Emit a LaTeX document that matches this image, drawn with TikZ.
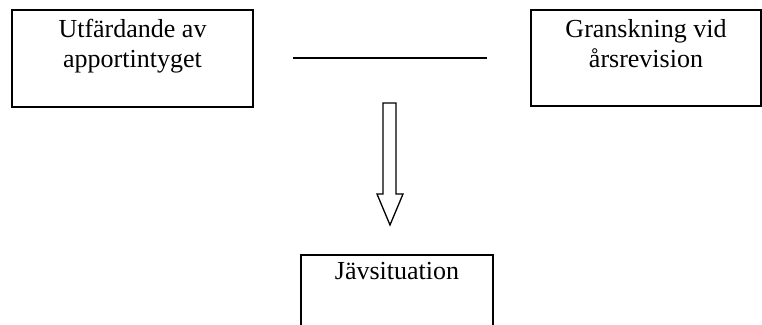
\documentclass[tikz,border=0pt]{standalone}
\usepackage{fontspec}
\setmainfont{Liberation Serif}
\begin{document}
\begin{tikzpicture}[x=1pt,y=1pt,
  box/.style={draw=black, line width=2pt, rectangle, inner sep=0pt},
  lbl/.style={anchor=north, inner sep=0pt, align=center, font=\fontsize{26}{30}\selectfont},
  arr/.style={draw=black, line width=1.3pt, fill=white}]
\useasboundingbox (0,0) rectangle (762,324);
\node[box, minimum width=241pt, minimum height=97pt] (L) at (132.5,265.5) {};
\node[box, minimum width=230pt, minimum height=96pt] (R) at (646,266) {};
\node[box, minimum width=192pt, minimum height=85pt] (B) at (397,26.5) {};
\node[lbl] (Lt) at ([yshift=-10pt]L.north) {Utfärdande av\\apportintyget};
\node[lbl] (Rt) at ([yshift=-10pt]R.north) {Granskning vid\\årsrevision};
\node[lbl] (Bt) at ([yshift=-8pt]B.north) {Jävsituation};
\coordinate (h1) at (293,266);
\coordinate (h2) at (487,266);
\draw[line width=2pt] (h1) -- (h2);
\draw[arr] (383,221) -- (396,221) -- (396,130) -- (403,130) -- (390,99) -- (377,130) -- (383,130) -- cycle;
\end{tikzpicture}
\end{document}
